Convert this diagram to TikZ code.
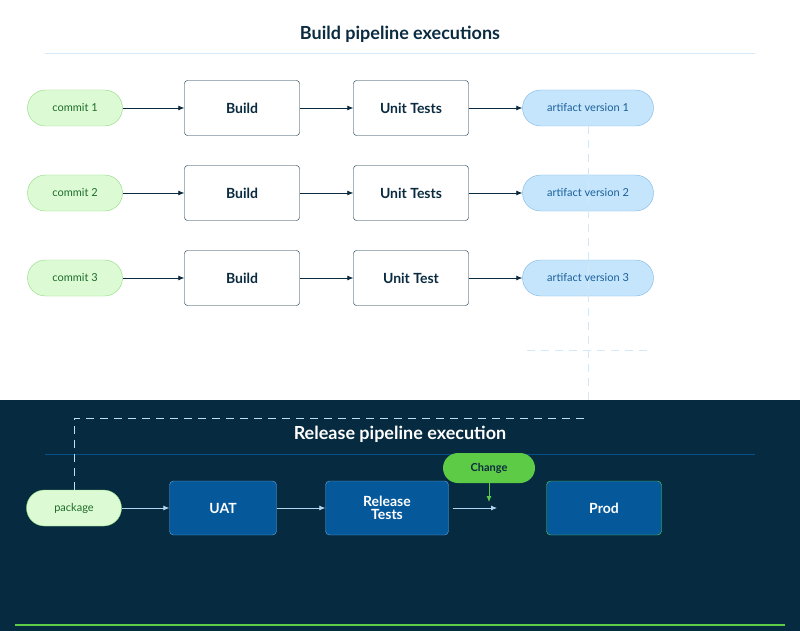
\documentclass[tikz,border=0pt]{standalone}
\usepackage{fontspec}
\setmainfont{Lato}
\usetikzlibrary{arrows.meta}
\definecolor{dark}{HTML}{062A40}
\definecolor{navy}{HTML}{0B2B40}
\definecolor{lgreen}{HTML}{DCFBD4}
\definecolor{ggreen}{HTML}{5DCB45}
\definecolor{tgreen}{HTML}{1E6B2A}
\definecolor{lblue}{HTML}{C5E5FC}
\definecolor{bblue}{HTML}{7DB7E6}
\definecolor{tblue}{HTML}{1A5F9A}
\definecolor{mblue}{HTML}{05599A}
\definecolor{dashc}{HTML}{D3E8F8}
\begin{document}
\begin{tikzpicture}[x=1pt,y=-1pt,
 commit/.style={draw=ggreen!70,fill=lgreen,rounded corners=18pt,minimum width=95pt,minimum height=36pt,text=tgreen,font=\fontsize{11}{12}\selectfont},
 art/.style={draw=bblue,fill=lblue,rounded corners=18pt,minimum width=131pt,minimum height=36pt,text=tblue,font=\fontsize{11}{12}\selectfont},
 stage/.style={draw=navy,fill=white,rounded corners=3pt,minimum width=115pt,minimum height=55pt,text=navy,font=\fontsize{14}{14}\selectfont\bfseries},
 rstage/.style={draw=bblue!80!mblue,fill=mblue,rounded corners=4pt,minimum height=54pt,text=white,font=\fontsize{14}{13}\selectfont\bfseries,align=center},
 arr/.style={-{Latex[length=6pt,width=5pt]},navy,line width=0.8pt},
 warr/.style={-{Latex[length=6pt,width=5pt]},bblue!60!white,line width=0.8pt},
 dsh/.style={dashc,line width=1pt,dash pattern=on 8pt off 6pt}]
\useasboundingbox (0,0) rectangle (800,631);
\fill[white] (0,0) rectangle (800,400);
\fill[dark] (0,400) rectangle (800,631);
\node[font=\fontsize{18}{20}\selectfont\bfseries,text=navy] (t1) at (400,34) {Build pipeline executions};
\draw[dashc] (45,53) -- (755,53);
\foreach \i/\y/\u in {1/108/Unit Tests,2/193/Unit Tests,3/278/Unit Test}{
 \node[commit] (c\i) at (75,\y) {commit \i};
 \node[stage] (b\i) at (242,\y) {Build};
 \node[stage] (u\i) at (411,\y) {\u};
 \node[art] (a\i) at (588,\y) {artifact version \i};
 \draw[arr] (c\i) -- (b\i);
 \draw[arr] (b\i) -- (u\i);
 \draw[arr] (u\i) -- (a\i);
}
\coordinate (h1) at (527,350); \coordinate (h2) at (648,350);
\draw[dsh] (h1) -- (h2);
\coordinate (v1) at (588,400);
\draw[dsh] (a1.south) -- (v1);
\node[font=\fontsize{18}{20}\selectfont\bfseries,text=white] (t2) at (400,434) {Release pipeline execution};
\draw[mblue!80!dark] (45,454) -- (755,454);
\node[commit] (p) at (74,508) {package};
\coordinate (d1) at (74,418); \coordinate (d2) at (588,418);
\draw[dashc!80!bblue,line width=1pt,dash pattern=on 8pt off 6pt] (p.north) -- (d1) -- (d2);
\node[rstage,minimum width=107pt] (uat) at (223,508) {UAT};
\node[rstage,minimum width=123pt] (rt) at (387,508) {Release\\Tests};
\node[rstage,minimum width=115pt,draw=ggreen] (prod) at (604,508) {Prod};
\coordinate (e) at (497,508);
\draw[warr] (p) -- (uat);
\draw[warr] (uat) -- (rt);
\draw[warr] ([xshift=4pt]rt.east) -- (e);
\node[fill=ggreen,rounded corners=15pt,minimum width=92pt,minimum height=30pt,text=navy,font=\fontsize{11}{12}\selectfont\bfseries] (ch) at (489,468) {Change};
\coordinate (ce) at (489,502);
\draw[-{Latex[length=6pt,width=5pt]},ggreen,line width=0.8pt] (ch) -- (ce);
\draw[ggreen,line width=1.5pt] (15,625) -- (785,625);
\end{tikzpicture}
\end{document}
